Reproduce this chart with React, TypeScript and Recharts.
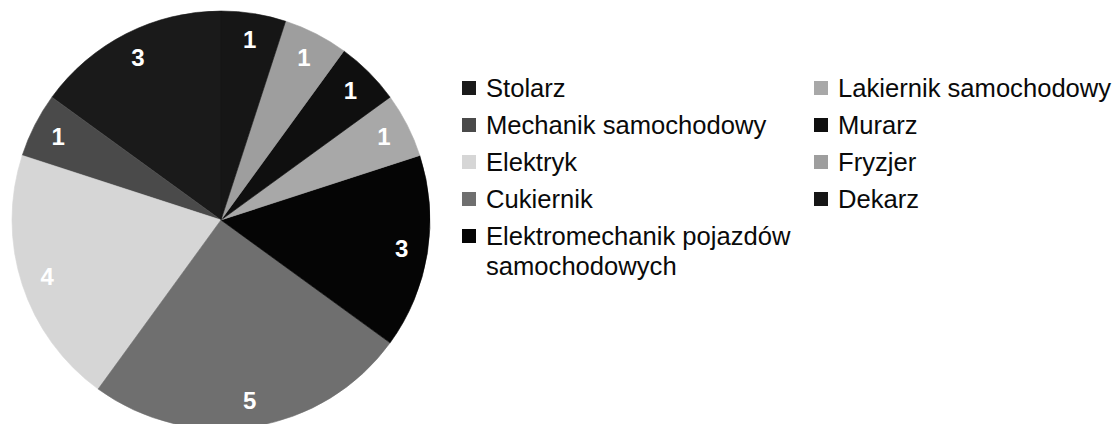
import { PieChart, Pie, Cell, Legend } from "recharts";

const categories = [
  "Stolarz",
  "Mechanik samochodowy",
  "Elektryk",
  "Cukiernik",
  "Elektromechanik pojazdów samochodowych",
  "Lakiernik samochodowy",
  "Murarz",
  "Fryzjer",
  "Dekarz",
];

const counts = [3, 1, 4, 5, 3, 1, 1, 1, 1];

// greyscale tones as they appear in the scanned picture
const SLICE_COLORS = [
  "#1a1a1a", // Stolarz
  "#4a4a4a", // Mechanik samochodowy
  "#d6d6d6", // Elektryk
  "#6f6f6f", // Cukiernik
  "#050505", // Elektromechanik
  "#a8a8a8", // Lakiernik
  "#0f0f0f", // Murarz
  "#9e9e9e", // Fryzjer
  "#161616", // Dekarz
];

const data = categories.map((name, i) => ({ name, value: counts[i] }));

const FONT = "'Liberation Sans', Arial, sans-serif";
const RAD = Math.PI / 180;

const renderLabel = (props: any) => {
  const { cx, cy, midAngle, outerRadius, value } = props;
  const r = outerRadius * 0.875;
  const x = cx + r * Math.cos(-midAngle * RAD);
  const y = cy + r * Math.sin(-midAngle * RAD);
  return (
    <text
      x={x}
      y={y}
      fill="#ffffff"
      textAnchor="middle"
      dominantBaseline="central"
      fontFamily={FONT}
      fontSize={24}
      fontWeight="bold"
    >
      {value}
    </text>
  );
};

const LegendItem = ({ color, label }: { color: string; label: string }) => (
  <div style={{ display: "flex", alignItems: "flex-start", marginBottom: 7 }}>
    <div
      style={{
        width: 14,
        height: 14,
        marginTop: 8,
        marginRight: 10,
        backgroundColor: color,
        flexShrink: 0,
      }}
    />
    <span style={{ lineHeight: "30px" }}>{label}</span>
  </div>
);

const TwoColumnLegend = () => {
  const items = categories.map((c, i) => ({ label: c, color: SLICE_COLORS[i] }));
  const left = items.slice(0, 5);
  const right = items.slice(5);
  return (
    <div
      style={{
        display: "flex",
        fontFamily: FONT,
        fontSize: 25.6,
        color: "#0a0a0a",
      }}
    >
      <div style={{ width: 352 }}>
        {left.map((it) => (
          <LegendItem key={it.label} color={it.color} label={it.label} />
        ))}
      </div>
      <div style={{ width: 300 }}>
        {right.map((it) => (
          <LegendItem key={it.label} color={it.color} label={it.label} />
        ))}
      </div>
    </div>
  );
};

export default function App() {
  return (
    <div
      style={{
        position: "absolute",
        left: 0,
        top: 0,
        width: 1117,
        height: 424,
        background: "#ffffff",
        overflow: "hidden",
      }}
    >
      <PieChart width={1117} height={424} margin={{ top: 0, right: 0, bottom: 0, left: 0 }}>
        <Pie
          data={data}
          dataKey="value"
          nameKey="name"
          cx={221}
          cy={220}
          outerRadius={209}
          startAngle={90}
          endAngle={450}
          label={renderLabel}
          labelLine={false}
          isAnimationActive={false}
        >
          {data.map((d, i) => (
            <Cell key={d.name} fill={SLICE_COLORS[i]} stroke={SLICE_COLORS[i]} strokeWidth={0.6} />
          ))}
        </Pie>
        <Legend
          layout="vertical"
          align="right"
          verticalAlign="top"
          content={() => <TwoColumnLegend />}
          wrapperStyle={{ left: 462, top: 73, width: 655, right: "auto" }}
        />
      </PieChart>
    </div>
  );
}
